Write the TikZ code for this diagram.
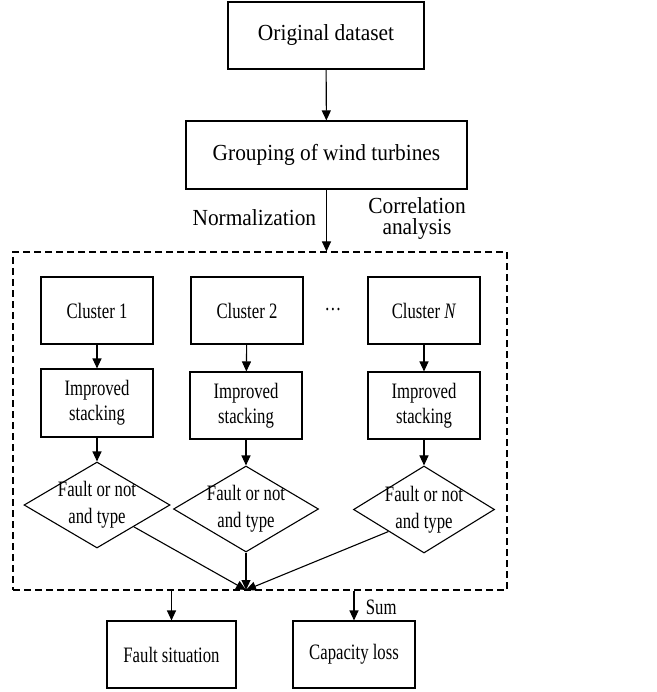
\documentclass[tikz,border=0pt]{standalone}
\usepackage{fontspec}
\setmainfont{Liberation Serif}
\newfontfamily\headfont[FakeStretch=0.93]{Liberation Serif}
\newfontfamily\bodyfont[FakeStretch=0.76]{Liberation Serif}
\usetikzlibrary{arrows.meta,shapes.geometric}
\begin{document}
\begin{tikzpicture}[x=1pt,y=-1pt,
  line width=1.1pt,
  big/.style={font=\headfont\fontsize{23}{21}\selectfont},
  small/.style={font=\bodyfont\fontsize{22}{25}\selectfont},
  box/.style={draw,rectangle,inner sep=0pt,align=center},
  bigbox/.style={box,big},
  smallbox/.style={box,small,minimum width=112pt,minimum height=67pt},
  choice/.style={draw,diamond,font=\bodyfont\fontsize{22}{27}\selectfont,
    inner sep=-5pt,aspect=1.7,align=center,
    minimum width=146pt,minimum height=86pt},
  flow/.style={-{Triangle[length=10pt,width=9pt]}},
  frame/.style={draw,dash pattern=on 7pt off 4pt,inner sep=0pt,
    minimum width=494pt,minimum height=338pt}]
\useasboundingbox (0,0) rectangle (656,692);

% top of the flow
\node[bigbox,minimum width=196pt,minimum height=67pt] (orig) at (326,35.5) {Original dataset};
\node[bigbox,minimum width=281pt,minimum height=68pt] (group) at (326.5,155) {Grouping of wind turbines};

% dashed frame around the per-cluster pipelines
\node[frame] (frame) at (260,421) {};
\coordinate (merge) at (246,590);

% clusters
\node[smallbox] (c1) at (97,310.5) {Cluster 1};
\node[smallbox] (c2) at (247,310.5) {Cluster 2};
\node[smallbox] (cN) at (424,310.5) {Cluster \textit{N}};
\node[small] (dots) at (333,310) {\dots};

\node[smallbox,minimum height=68pt] (i1) at (97,403) {Improved\\stacking};
\node[smallbox] (i2) at (246,405.5) {Improved\\stacking};
\node[smallbox] (iN) at (424,405.5) {Improved\\stacking};

\node[choice] (d1) at (97,505) {Fault or not\\and type};
\node[choice,minimum width=145pt] (d2) at (246,509) {Fault or not\\and type};
\node[choice,minimum width=141pt,minimum height=87pt] (dN) at (424,509.5) {Fault or not\\and type};

% results
\node[smallbox,minimum width=129pt] (fs) at (171.5,654.5) {Fault situation};
\node[smallbox,minimum width=122pt] (cl) at (354,654.5) {Capacity loss};

% connectors
\draw[flow] (orig) -- (group);
\draw[flow] (group.south) -- (group.south |- frame.north);
\node[big,anchor=east] (norm) at (320,218) {Normalization};
\node[big,align=center] (corr) at (417,219) {Correlation\\analysis};

\foreach \c/\i/\d in {c1/i1/d1,c2/i2/d2,cN/iN/dN}{
  \draw[flow] (\c) -- (\i);
  \draw[flow] (\i) -- (\d);
}
\draw[flow] (d1.south east) -- (merge);
\draw[flow] (d2.south) -- (merge);
\draw[flow] (dN.south west) -- (merge);

\draw[flow] (fs.north |- frame.south) -- (fs.north);
\draw[flow] (cl.north |- frame.south) -- (cl.north);
\node[small,anchor=west] (sum) at (362,607) {Sum};
\end{tikzpicture}
\end{document}
